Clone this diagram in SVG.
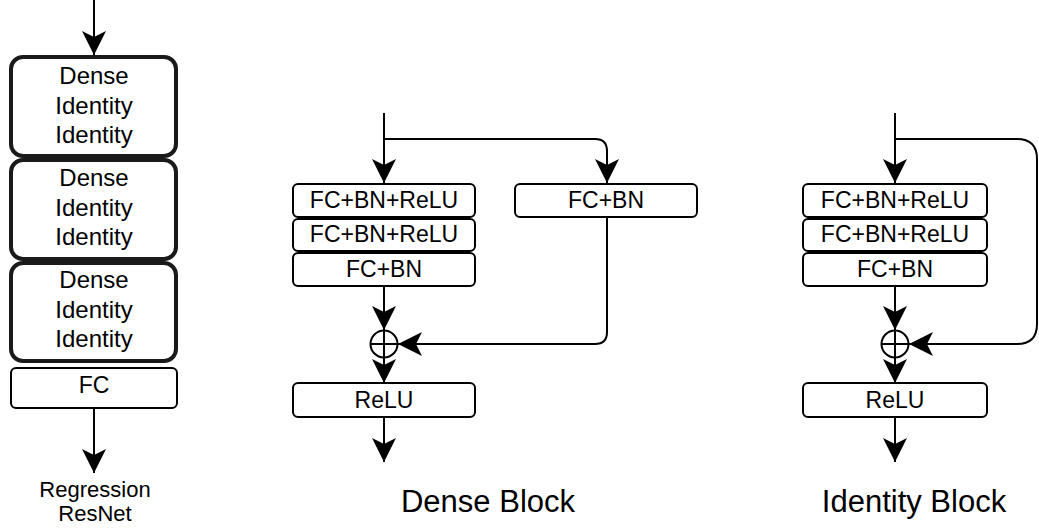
<svg xmlns="http://www.w3.org/2000/svg" width="1039" height="530" viewBox="0 0 1039 530">
<style>
.box{fill:#fff;stroke:#000;stroke-width:2}
.tbox{fill:#fff;stroke:#1a1a1a;stroke-width:4}
.t{font-family:"Liberation Sans",Arial,sans-serif;font-size:23px;fill:#000;text-anchor:middle}
.tr{font-family:"Liberation Sans",Arial,sans-serif;font-size:22px;fill:#000;text-anchor:middle}
.tl{font-family:"Liberation Sans",Arial,sans-serif;font-size:24px;fill:#000;text-anchor:middle}
.title{font-family:"Liberation Sans",Arial,sans-serif;font-size:31px;fill:#000;text-anchor:middle}
.c{fill:none;stroke:#000;stroke-width:2;marker-end:url(#ah)}
.sum{fill:#fff;stroke:#000;stroke-width:2}
</style>
<defs>
<marker id="ah" markerUnits="userSpaceOnUse" markerWidth="26" markerHeight="26" refX="24" refY="12" orient="auto" viewBox="0 0 26 26">
<path d="M0 0 L24 12 L0 24 L6 12 Z" fill="#000"/>
</marker>
</defs>
<rect width="1039" height="530" fill="#fff"/>

<g id="connectors">
<path class="c" d="M94 0 V55"/>
<path class="c" d="M94 408 V473"/>
<path class="c" d="M384 113 V183"/>
<path class="c" d="M384 139 H595 Q607 139 607 151 V183"/>
<path class="c" d="M384 286 V330"/>
<path class="c" d="M607 217 V332 Q607 344 595 344 H398"/>
<path class="c" d="M384 344 V383"/>
<path class="c" d="M384 417 V462"/>
<path class="c" d="M895 113 V183"/>
<path class="c" d="M895 139 H1017 Q1037 139 1037 159 V324 Q1037 344 1017 344 H909"/>
<path class="c" d="M895 286 V330"/>
<path class="c" d="M895 344 V383"/>
<path class="c" d="M895 417 V462"/>
</g>

<g id="resnet-block1">
<rect class="tbox" x="11" y="57" width="165" height="99" rx="12"/>
<text class="tl" x="94" y="84">Dense</text>
<text class="tl" x="94" y="114">Identity</text>
<text class="tl" x="94" y="143">Identity</text>
</g>
<g id="resnet-block2">
<rect class="tbox" x="11" y="160" width="165" height="99" rx="12"/>
<text class="tl" x="94" y="186">Dense</text>
<text class="tl" x="94" y="216">Identity</text>
<text class="tl" x="94" y="245">Identity</text>
</g>
<g id="resnet-block3">
<rect class="tbox" x="11" y="263" width="165" height="98" rx="12"/>
<text class="tl" x="94" y="288">Dense</text>
<text class="tl" x="94" y="318">Identity</text>
<text class="tl" x="94" y="347">Identity</text>
</g>
<g id="resnet-fc">
<rect class="box" x="11" y="368" width="166" height="40" rx="5"/>
<text class="t" x="94" y="393">FC</text>
</g>
<g id="resnet-label">
<text class="tr" x="95" y="497">Regression</text>
<text class="tr" x="95" y="521">ResNet</text>
</g>

<g id="dense-fc1">
<rect class="box" x="293" y="184" width="182" height="33" rx="5"/>
<text class="t" x="384" y="207.5">FC+BN+ReLU</text>
</g>
<g id="dense-fc2">
<rect class="box" x="293" y="219" width="182" height="32" rx="5"/>
<text class="t" x="384" y="242">FC+BN+ReLU</text>
</g>
<g id="dense-fc3">
<rect class="box" x="293" y="253" width="182" height="33" rx="5"/>
<text class="t" x="384" y="276.5">FC+BN</text>
</g>
<g id="dense-shortcut">
<rect class="box" x="515" y="184" width="182" height="33" rx="5"/>
<text class="t" x="606" y="207.5">FC+BN</text>
</g>
<g id="dense-sum">
<circle class="sum" cx="384" cy="344" r="13.5"/>
<path d="M370.5 344 H397.5 M384 330.5 V357.5" stroke="#000" stroke-width="2"/>
</g>
<g id="dense-relu">
<rect class="box" x="293" y="383" width="182" height="34" rx="5"/>
<text class="t" x="384" y="407.5">ReLU</text>
</g>
<g id="dense-title">
<text class="title" x="488" y="512">Dense Block</text>
</g>

<g id="id-fc1">
<rect class="box" x="803" y="184" width="184" height="33" rx="5"/>
<text class="t" x="895" y="207.5">FC+BN+ReLU</text>
</g>
<g id="id-fc2">
<rect class="box" x="803" y="219" width="184" height="32" rx="5"/>
<text class="t" x="895" y="242">FC+BN+ReLU</text>
</g>
<g id="id-fc3">
<rect class="box" x="803" y="253" width="184" height="33" rx="5"/>
<text class="t" x="895" y="276.5">FC+BN</text>
</g>
<g id="id-sum">
<circle class="sum" cx="895" cy="344" r="13.5"/>
<path d="M881.5 344 H908.5 M895 330.5 V357.5" stroke="#000" stroke-width="2"/>
</g>
<g id="id-relu">
<rect class="box" x="803" y="383" width="184" height="34" rx="5"/>
<text class="t" x="895" y="407.5">ReLU</text>
</g>
<g id="id-title">
<text class="title" x="914" y="512">Identity Block</text>
</g>
</svg>
